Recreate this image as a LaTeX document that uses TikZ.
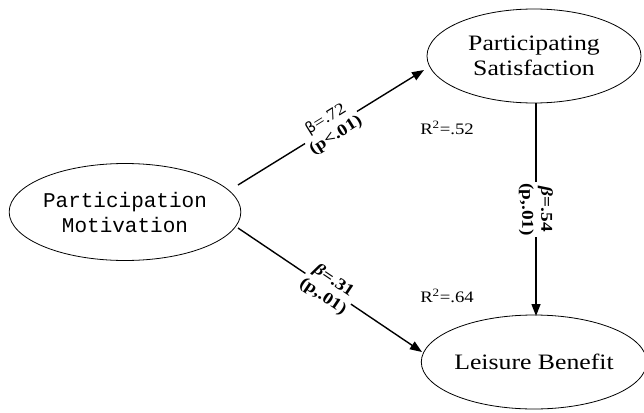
\documentclass[tikz,border=0pt]{standalone}
\usepackage{fontspec}
\setmainfont[FakeStretch=1.17]{Liberation Serif}
\newfontfamily\monof{Liberation Mono}
\newfontfamily\betaf{DejaVu Sans}
\usetikzlibrary{shapes.geometric,arrows.meta}
\begin{document}
\begin{tikzpicture}[x=1pt,y=-1pt,
  ell/.style={draw,ellipse,line width=0.8pt,minimum width=#1,inner sep=0pt},
  arr/.style={line width=1.4pt,-{Triangle[length=12pt,width=9pt]}},
  lab/.style={fill=white,sloped,font=\bfseries\fontsize{16.5}{19}\selectfont,align=center,inner sep=1pt},
  rsq/.style={font=\fontsize{16}{16}\selectfont}]
\useasboundingbox (0,0) rectangle (644,412);
\node[ell=230pt,minimum height=97pt,font=\monof\fontsize{21}{25}\selectfont,align=center] (pm) at (125,212) {Participation\\Motivation};
\node[ell=214pt,minimum height=94pt,font=\fontsize{22}{25}\selectfont,align=center] (ps) at (534,56) {Participating\\Satisfaction};
\node[ell=216pt,minimum height=94pt,font=\fontsize{22}{25}\selectfont] (lb) at (534,362) {Leisure Benefit};
\coordinate (a1) at (238,185);
\coordinate (a2) at (238,228);
\coordinate (s1) at (536,103);
\coordinate (t1) at (424,70);
\coordinate (t2) at (422,352);
\coordinate (t3) at (536,316);
\draw[arr] (a1) -- node[lab,pos=0.5]{\mdseries{\betaf\fontsize{15}{15}\selectfont β}=.72\\(p<.01)} (t1);
\draw[arr] (a2) -- node[lab,pos=0.49]{\textit{β}=.31\\(p,.01)} (t2);
\draw[arr] (s1) -- node[lab,pos=0.5]{\textit{β}=.54\\(p,.01)} (t3);
\node[rsq] (r1) at (447,128) {R\textsuperscript{2}=.52};
\node[rsq] (r2) at (447,296) {R\textsuperscript{2}=.64};
\end{tikzpicture}
\end{document}
